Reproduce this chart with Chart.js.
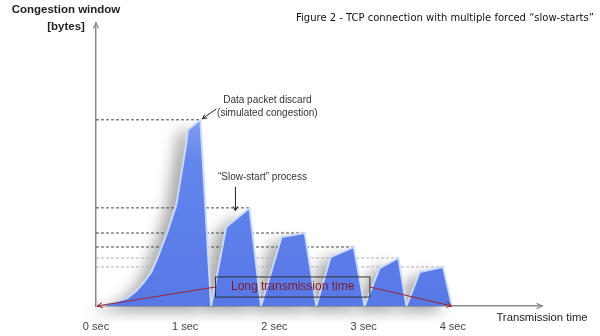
<!DOCTYPE html>
<html>
<head>
<meta charset="utf-8">
<script src="https://cdn.jsdelivr.net/npm/chart.js@4/dist/chart.umd.min.js"></script>
<style>
  html, body { margin: 0; padding: 0; background: #fff; }
  #wrap { width: 600px; height: 336px; position: relative; }
</style>
</head>
<body>
<div id="wrap"><canvas id="cwnd"></canvas></div>
<script>
// congestion window over time (seconds / relative window size)
const seconds = [0, 0.09, 0.22, 0.35, 0.45, 0.54, 0.62, 0.69, 0.80, 0.90, 0.955, 1.01, 1.03, 1.17, 1.29,
  1.46, 1.72, 1.85, 2.08, 2.34, 2.47, 2.63, 2.89, 3.01, 3.18, 3.39, 3.48, 3.63, 3.89, 3.99];
const windowSize = [0, 0.5, 2.2, 4.3, 8, 12.9, 18.3, 25.8, 39.8, 54.3, 70.4, 86.6, 94.6, 100, 0,
  42.5, 52.7, 0, 37, 39.2, 0, 26.3, 31.7, 0, 20.4, 25.8, 0, 18.3, 21, 0];
const tickLabels = ["0 sec", "1 sec", "2 sec", "3 sec", "4 sec"];
const levelColors = ["#4a4a4a", "#4a4a4a", "#4a4a4a", "#4a4a4a", "#b0b0b0", "#b0b0b0"];

const points = seconds.map((t, i) => ({ x: t, y: windowSize[i] }));

// every local maximum = a forced drop; draw a dashed level from the axis to it
const peaks = points.filter((p, i) => i > 0 && i < points.length - 1 &&
  p.y > points[i - 1].y && p.y > points[i + 1].y);

const levelSets = peaks.map((p, i) => ({
  data: [{ x: 0, y: p.y }, { x: p.x, y: p.y }],
  borderColor: levelColors[i],
  borderWidth: 1,
  borderDash: [3, 2],
  pointRadius: 0,
  fill: false,
}));

const FONT = "'Liberation Sans', Arial, sans-serif";

function arrowHead(ctx, x1, y1, x2, y2, size, filled) {
  const a = Math.atan2(y2 - y1, x2 - x1);
  ctx.beginPath();
  ctx.moveTo(x2 - size * Math.cos(a - 0.45), y2 - size * Math.sin(a - 0.45));
  ctx.lineTo(x2, y2);
  ctx.lineTo(x2 - size * Math.cos(a + 0.45), y2 - size * Math.sin(a + 0.45));
  if (filled) { ctx.closePath(); ctx.fill(); } else ctx.stroke();
}

function arrow(ctx, x1, y1, x2, y2, size, filled) {
  ctx.beginPath();
  ctx.moveTo(x1, y1);
  ctx.lineTo(x2, y2);
  ctx.stroke();
  arrowHead(ctx, x1, y1, x2, y2, size, filled);
}

// soft grey shadow cast to the left of the area
const shadowPlugin = {
  id: "areaShadow",
  beforeDatasetsDraw(chart) {
    const meta = chart.getDatasetMeta(0);
    const ctx = chart.ctx;
    const base = chart.scales.y.getPixelForValue(0);
    ctx.save();
    ctx.filter = "blur(7px)";
    ctx.translate(-11, 6);
    ctx.fillStyle = "rgba(0,0,0,0.33)";
    ctx.beginPath();
    ctx.moveTo(meta.data[0].x, base);
    meta.data.forEach((pt) => ctx.lineTo(pt.x, pt.y));
    ctx.lineTo(meta.data[meta.data.length - 1].x, base);
    ctx.closePath();
    ctx.fill();
    ctx.restore();
  },
};

const notesPlugin = {
  id: "notes",
  afterDraw(chart) {
    const { ctx, chartArea, scales } = chart;
    const xs = scales.x, ys = scales.y;
    const x0 = xs.getPixelForValue(0), y0 = ys.getPixelForValue(0);
    ctx.save();

    // axis arrows
    ctx.strokeStyle = "#8a8a8a";
    ctx.lineWidth = 1.2;
    arrowHead(ctx, x0, y0, x0, chartArea.top, 6, false);
    arrowHead(ctx, x0, y0, chartArea.right, y0, 6, false);

    // axis titles + figure caption
    ctx.fillStyle = "#222";
    ctx.textAlign = "center";
    ctx.textBaseline = "middle";
    ctx.font = "bold 11.5px " + FONT;
    ctx.fillText("Congestion window", 66, 10);
    ctx.fillText("[bytes]", 66, 27);
    ctx.font = "11.3px " + FONT;
    ctx.fillText("Transmission time", 542, 318);
    ctx.textAlign = "left";
    ctx.font = "10px 'DejaVu Sans', sans-serif";
    ctx.fillStyle = "#111";
    ctx.fillText("Figure 2 - TCP connection with multiple forced \u201cslow-starts\u201d", 296, 18);

    // first drop
    const p1 = peaks[0];
    const px1 = xs.getPixelForValue(p1.x), py1 = ys.getPixelForValue(p1.y);
    ctx.fillStyle = "#333";
    ctx.textAlign = "center";
    ctx.font = "10px " + FONT;
    ctx.fillText("Data packet discard", px1 + 67, py1 - 20);
    ctx.fillText("(simulated congestion)", px1 + 67, py1 - 7);
    ctx.strokeStyle = "#222";
    ctx.lineWidth = 1;
    arrow(ctx, px1 + 16, py1 - 11, px1 + 2, py1 - 1, 5, false);

    // slow-start after the second drop
    const p2 = peaks[1];
    const px2 = xs.getPixelForValue(p2.x), py2 = ys.getPixelForValue(p2.y);
    ctx.fillText("\u201cSlow-start\u201d process", px2 + 13, py2 - 31);
    arrow(ctx, px2 - 14, py2 - 21, px2 - 14, py2 + 3, 5, false);

    // long transmission time box
    const bx1 = xs.getPixelForValue(1.34), bx2 = xs.getPixelForValue(3.07);
    const by1 = ys.getPixelForValue(15.6), by2 = ys.getPixelForValue(4.8);
    const last = points[points.length - 1];
    const xe = xs.getPixelForValue(last.x);
    ctx.strokeStyle = "#9b2430";
    ctx.fillStyle = "#9b2430";
    ctx.lineWidth = 1;
    arrow(ctx, bx1, (by1 + by2) / 2, x0 + 1, y0, 6, false);
    arrow(ctx, bx2, (by1 + by2) / 2, xe, y0, 6, false);
    ctx.strokeStyle = "#333";
    ctx.strokeRect(bx1, by1, bx2 - bx1, by2 - by1);
    ctx.fillStyle = "#7d1828";
    ctx.font = "12px " + FONT;
    ctx.fillText("Long transmission time", (bx1 + bx2) / 2, (by1 + by2) / 2);

    ctx.restore();
  },
};

const canvas = document.getElementById("cwnd");
const ctx = canvas.getContext("2d");

new Chart(ctx, {
  type: "line",
  data: {
    datasets: [
      {
        data: points,
        fill: "origin",
        backgroundColor: (c) => {
          const area = c.chart.chartArea;
          if (!area) return "#5d80ea";
          const g = c.chart.ctx.createLinearGradient(0, area.bottom, 0, area.top + 90);
          g.addColorStop(0, "#5878e6");
          g.addColorStop(0.75, "#6386ec");
          g.addColorStop(1, "#86a2f3");
          return g;
        },
        borderColor: "rgba(205,220,252,0.95)",
        borderWidth: 2,
        pointRadius: 0,
        tension: 0,
      },
      ...levelSets,
    ],
  },
  options: {
    responsive: true,
    maintainAspectRatio: false,
    animation: false,
    layout: { padding: { left: 96, right: 58, top: 23, bottom: 5 } },
    scales: {
      x: {
        type: "linear",
        min: 0,
        max: 5,
        grid: { display: false, drawTicks: false },
        border: { display: true, color: "#8a8a8a", width: 1.5 },
        afterFit: (scale) => { scale.height = 25; },
        ticks: {
          stepSize: 1,
          padding: 14,
          color: "#444",
          font: { family: FONT, size: 11 },
          callback: (v) => tickLabels[v] || "",
        },
      },
      y: {
        min: 0,
        max: 152,
        grid: { display: false, drawTicks: false },
        border: { display: true, color: "#8a8a8a", width: 1.5 },
        ticks: { display: false },
      },
    },
    plugins: { legend: { display: false }, tooltip: { enabled: false } },
  },
  plugins: [shadowPlugin, notesPlugin],
});
</script>
</body>
</html>
